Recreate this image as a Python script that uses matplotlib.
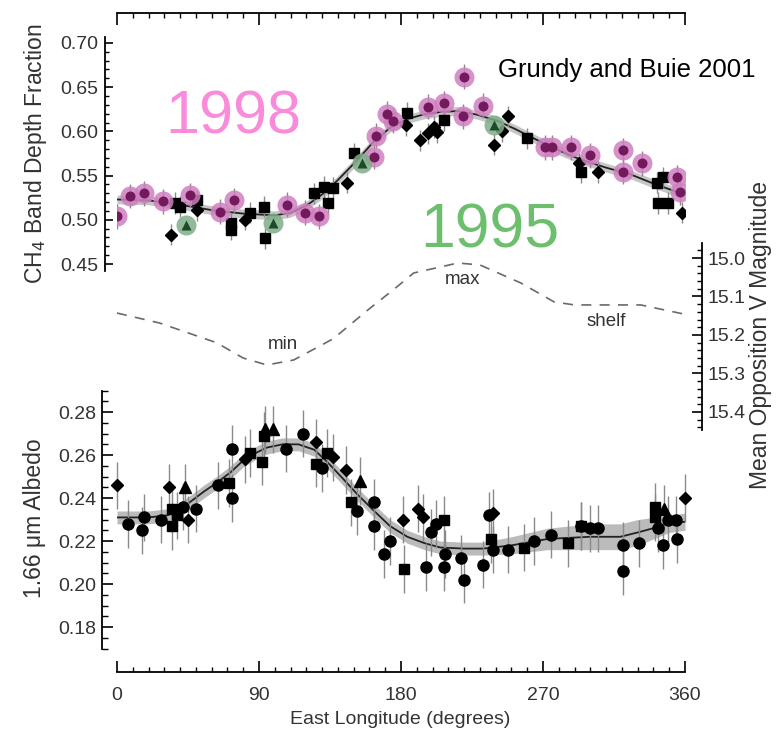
import numpy as np
import matplotlib
matplotlib.use("Agg")
import matplotlib.pyplot as plt
from matplotlib.ticker import MultipleLocator, FixedLocator

plt.rcParams['font.family'] = ['Liberation Sans', 'DejaVu Sans']

# ---------------- data: CH4 band depth (top panel) ----------------
lon_1998 = [0, 8, 17, 29, 46, 65, 74, 108, 119, 128, 163, 164, 171, 175, 197, 207,
            220, 219, 232, 271, 276, 288, 300, 321, 321, 333, 355, 357]
ch4_1998 = [0.504, 0.527, 0.530, 0.521, 0.528, 0.509, 0.522, 0.517, 0.508, 0.504,
            0.571, 0.595, 0.620, 0.612, 0.628, 0.632, 0.662, 0.617, 0.629, 0.582,
            0.582, 0.582, 0.573, 0.579, 0.554, 0.564, 0.548, 0.531]
lon_1995 = [44, 99, 155, 239]
ch4_1995 = [0.494, 0.496, 0.564, 0.607]
lon_top_sq = [37, 40, 51, 72, 72, 84, 93, 94, 125, 131, 134, 137, 150, 184, 207,
              260, 294, 342, 346, 343, 349]
ch4_top_sq = [0.519, 0.515, 0.522, 0.489, 0.496, 0.508, 0.515, 0.479, 0.530, 0.537,
              0.519, 0.536, 0.575, 0.621, 0.613, 0.592, 0.554, 0.542, 0.548, 0.519, 0.519]
lon_top_dm = [34, 51, 81, 146, 183, 192, 197, 201, 203, 239, 244, 248, 293, 305, 358]
ch4_top_dm = [0.483, 0.511, 0.500, 0.542, 0.607, 0.590, 0.598, 0.605, 0.599, 0.585,
              0.600, 0.617, 0.564, 0.554, 0.508]
fit_lon = [0, 20, 40, 60, 80, 100, 110, 120, 131, 140, 152, 162, 173, 184, 194, 205,
           216, 228, 241, 252, 262, 278, 294, 310, 326, 340, 351, 358]
fit_ch4 = [0.523, 0.522, 0.517, 0.511, 0.507, 0.505, 0.508, 0.516, 0.530, 0.545,
           0.567, 0.587, 0.604, 0.614, 0.619, 0.622, 0.623, 0.619, 0.612, 0.603,
           0.594, 0.580, 0.568, 0.559, 0.551, 0.541, 0.534, 0.530]
fit_ch4_err = 0.005

# ---------------- data: mean opposition V magnitude (dashed) ----------------
mag_lon = [0, 27, 63, 80, 95, 112, 137, 159, 175, 188, 216, 230, 256, 277, 290,
           332, 347, 362]
mag_val = [15.143, 15.169, 15.22, 15.26, 15.278, 15.265, 15.21, 15.135, 15.083,
           15.039, 15.013, 15.018, 15.065, 15.114, 15.122, 15.122, 15.135, 15.148]

# ---------------- data: 1.66 um albedo (bottom panel) ----------------
lon_c = [7, 16, 17, 28, 42, 50, 64, 73, 73, 107, 118, 130, 152, 163, 163, 169, 173,
         196, 199, 202, 207, 208, 218, 220, 232, 236, 238, 248, 264, 275, 294, 300,
         305, 321, 321, 331, 343, 349, 354, 346, 355]
alb_c = [0.228, 0.225, 0.231, 0.230, 0.236, 0.235, 0.246, 0.240, 0.263, 0.263, 0.270,
         0.254, 0.234, 0.238, 0.227, 0.214, 0.220, 0.208, 0.224, 0.228, 0.208, 0.214,
         0.212, 0.202, 0.209, 0.232, 0.216, 0.216, 0.220, 0.223, 0.227, 0.226, 0.226,
         0.218, 0.206, 0.219, 0.226, 0.230, 0.230, 0.218, 0.221]
lon_s = [35, 35, 38, 71, 84, 92, 93, 126, 133, 148, 182, 207, 237, 258, 286, 294, 341, 341]
alb_s = [0.235, 0.227, 0.232, 0.247, 0.261, 0.257, 0.269, 0.256, 0.261, 0.238, 0.207,
         0.230, 0.221, 0.217, 0.219, 0.227, 0.236, 0.231]
lon_d = [0, 33, 45, 81, 126, 137, 145, 181, 191, 194, 238, 360]
alb_d = [0.246, 0.245, 0.230, 0.258, 0.266, 0.259, 0.253, 0.230, 0.235, 0.231, 0.233, 0.240]
lon_t = [43, 94, 99, 154, 347]
alb_t = [0.245, 0.272, 0.272, 0.248, 0.235]
fitb_lon = [0, 20, 32, 40, 46, 55, 63, 72, 80, 88, 95, 105, 115, 125, 133, 142, 152,
            163, 173, 184, 195, 205, 220, 232, 250, 273, 300, 319, 330, 340, 350, 360]
fitb_alb = [0.231, 0.231, 0.232, 0.235, 0.238, 0.243, 0.247, 0.252, 0.2575, 0.261,
            0.2635, 0.265, 0.265, 0.2625, 0.257, 0.250, 0.242, 0.234, 0.227, 0.222,
            0.219, 0.217, 0.2165, 0.2165, 0.218, 0.221, 0.222, 0.222, 0.224, 0.226,
            0.228, 0.229]
fitb_err = [0.003, 0.003, 0.003, 0.003, 0.003, 0.003, 0.003, 0.003, 0.003, 0.003,
            0.003, 0.003, 0.003, 0.003, 0.003, 0.003, 0.003, 0.003, 0.003, 0.003,
            0.003, 0.003, 0.003, 0.003, 0.004, 0.005, 0.006, 0.006, 0.006, 0.005,
            0.004, 0.004]

W, H = 779, 735
fig = plt.figure(figsize=(W / 100, H / 100), dpi=100)

def fx(px):
    return px / W

def fy(py):
    return 1 - py / H

PT = 0.72  # points per pixel
TXT = '#333333'
ERRC = '#8a8a8a'

# ======== top panel ========
ax1 = fig.add_axes([fx(117), fy(271), fx(685) - fx(117), fy(13) - fy(271)])
ax1.set_xlim(0, 360)
ax1.spines['bottom'].set_visible(False)
ax1.spines['right'].set_visible(False)
ax1.spines['left'].set_position(('outward', 12 * PT))
ax1.spines['left'].set_bounds(0.442, 0.707)
for s in ax1.spines.values():
    s.set_linewidth(1.3)
ax1.xaxis.set_ticks_position('top')
ax1.xaxis.set_major_locator(MultipleLocator(90))
ax1.xaxis.set_minor_locator(MultipleLocator(10))
ax1.tick_params(axis='x', which='major', direction='in', length=12 * PT, width=1.2,
                labeltop=False, labelbottom=False)
ax1.tick_params(axis='x', which='minor', direction='in', length=5 * PT, width=1.0)
ax1.set_yticks([0.45, 0.50, 0.55, 0.60, 0.65, 0.70])
ax1.set_yticklabels(['0.45', '0.50', '0.55', '0.60', '0.65', '0.70'])
ax1.yaxis.set_minor_locator(FixedLocator(np.round(np.arange(0.44, 0.7001, 0.01), 3)))
ax1.tick_params(axis='y', which='major', direction='in', length=8 * PT, width=1.2,
                labelsize=14, labelcolor=TXT, pad=5)
ax1.tick_params(axis='y', which='minor', direction='in', length=4 * PT, width=1.0)
ax1.set_ylim(0.4421, 0.7339)

f_lo = [v - fit_ch4_err for v in fit_ch4]
f_hi = [v + fit_ch4_err for v in fit_ch4]
ax1.fill_between(fit_lon, f_lo, f_hi, color='#b8b8b8', alpha=0.8, lw=0, zorder=1)
ax1.plot(fit_lon, fit_ch4, color='#222222', lw=1.3, zorder=2)

ax1.errorbar(lon_top_sq, ch4_top_sq, yerr=0.012, fmt='s', ms=7, color='black',
             ecolor=ERRC, elinewidth=1, capsize=0, zorder=3)
ax1.errorbar(lon_top_dm, ch4_top_dm, yerr=0.012, fmt='D', ms=6, color='black',
             ecolor=ERRC, elinewidth=1, capsize=0, zorder=3)
ax1.errorbar(lon_1998, ch4_1998, yerr=0.014, fmt='none', ecolor=ERRC, elinewidth=1,
             capsize=0, zorder=3)
ax1.scatter(lon_1998, ch4_1998, s=(20 * PT) ** 2, color='#cf7fc0', alpha=0.85,
            lw=0, zorder=4)
ax1.scatter(lon_1998, ch4_1998, s=(10 * PT) ** 2, color='#731a5c', lw=0, zorder=5)
ax1.scatter(lon_1995, ch4_1995, s=(20 * PT) ** 2, color='#7fae88', alpha=0.85,
            lw=0, zorder=4)
ax1.scatter(lon_1995, ch4_1995, s=(10 * PT) ** 2, marker='^', color='#1d4a2b',
            lw=0, zorder=5)

# ======== magnitude curve (dashed, right axis) ========
axm = fig.add_axes([fx(117), fy(430), fx(685) - fx(117), fy(243) - fy(430)])
axm.patch.set_visible(False)
axm.set_xlim(0, 360)
for k in ['top', 'bottom', 'left']:
    axm.spines[k].set_visible(False)
axm.spines['right'].set_position(('outward', 17 * PT))
axm.spines['right'].set_linewidth(1.3)
axm.set_xticks([])
axm.yaxis.set_ticks_position('right')
axm.set_yticks([15.0, 15.1, 15.2, 15.3, 15.4])
axm.set_yticklabels(['15.0', '15.1', '15.2', '15.3', '15.4'])
axm.yaxis.set_minor_locator(MultipleLocator(0.02))
axm.tick_params(axis='y', which='major', direction='in', length=10 * PT, width=1.2,
                labelsize=14, labelcolor=TXT, pad=4)
axm.tick_params(axis='y', which='minor', direction='in', length=5 * PT, width=1.0)
axm.set_ylim(15.447, 14.961)
axm.plot(mag_lon, mag_val, color='#6a6a6a', lw=1.2, ls=(0, (6, 5)), clip_on=False)
axm.text(105, 15.225, 'min', ha='center', va='center', fontsize=13.5, color=TXT)
axm.text(219, 15.057, 'max', ha='center', va='center', fontsize=13.5, color=TXT)
axm.text(310, 15.165, 'shelf', ha='center', va='center', fontsize=13.5, color=TXT)

# ======== bottom panel ========
ax2 = fig.add_axes([fx(117), fy(672), fx(685) - fx(117), fy(388) - fy(672)])
ax2.set_xlim(0, 360)
ax2.spines['top'].set_visible(False)
ax2.spines['right'].set_visible(False)
ax2.spines['left'].set_position(('outward', 15 * PT))
ax2.spines['left'].set_bounds(0.170, 0.290)
for s in ax2.spines.values():
    s.set_linewidth(1.3)
ax2.set_xticks([0, 90, 180, 270, 360])
ax2.set_xticklabels(['0', '90', '180', '270', '360'])
ax2.xaxis.set_minor_locator(MultipleLocator(10))
ax2.tick_params(axis='x', which='major', direction='in', length=11 * PT, width=1.2,
                labelsize=14, labelcolor=TXT, pad=11)
ax2.tick_params(axis='x', which='minor', direction='in', length=5 * PT, width=1.0)
ax2.set_yticks([0.18, 0.20, 0.22, 0.24, 0.26, 0.28])
ax2.set_yticklabels(['0.18', '0.20', '0.22', '0.24', '0.26', '0.28'])
ax2.yaxis.set_minor_locator(FixedLocator(np.round(np.arange(0.170, 0.2901, 0.005), 3)))
ax2.tick_params(axis='y', which='major', direction='in', length=11 * PT, width=1.2,
                labelsize=14, labelcolor=TXT, pad=4)
ax2.tick_params(axis='y', which='minor', direction='in', length=6 * PT, width=1.0)
ax2.set_ylim(0.1591, 0.2912)

b_lo = [v - e for v, e in zip(fitb_alb, fitb_err)]
b_hi = [v + e for v, e in zip(fitb_alb, fitb_err)]
ax2.fill_between(fitb_lon, b_lo, b_hi, color='#b0b0b0', alpha=0.85, lw=0, zorder=1)
ax2.plot(fitb_lon, fitb_alb, color='#222222', lw=1.3, zorder=2)
for xs, ys, mk, ms in [(lon_c, alb_c, 'o', 8), (lon_s, alb_s, 's', 7.5),
                       (lon_d, alb_d, 'D', 6.5), (lon_t, alb_t, '^', 8)]:
    ax2.errorbar(xs, ys, yerr=0.011, fmt=mk, ms=ms, color='black', ecolor=ERRC,
                 elinewidth=1, capsize=0, zorder=3, clip_on=False)

# ======== labels & annotations ========
fig.text(fx(36), fy(154), 'CH$_4$ Band Depth Fraction', rotation=90, ha='center',
         va='center', fontsize=16.5, color=TXT)
fig.text(fx(35), fy(518), '1.66 \u03bcm Albedo', rotation=90, ha='center',
         va='center', fontsize=16.5, color=TXT)
fig.text(fx(760), fy(335), 'Mean Opposition V Magnitude', rotation=90, ha='center',
         va='center', fontsize=16.5, color=TXT)
fig.text(fx(400), fy(720), 'East Longitude (degrees)', ha='center', va='center',
         fontsize=14, color=TXT)
fig.text(fx(165), fy(133), '1998', ha='left', va='baseline', fontsize=44,
         color='#f98bda')
fig.text(fx(420), fy(247), '1995', ha='left', va='baseline', fontsize=45,
         color='#6cbf6c')
fig.text(fx(498), fy(77), 'Grundy and Buie 2001', ha='left', va='baseline',
         fontsize=18.5, color='black')

fig.savefig('out.png', dpi=100)
